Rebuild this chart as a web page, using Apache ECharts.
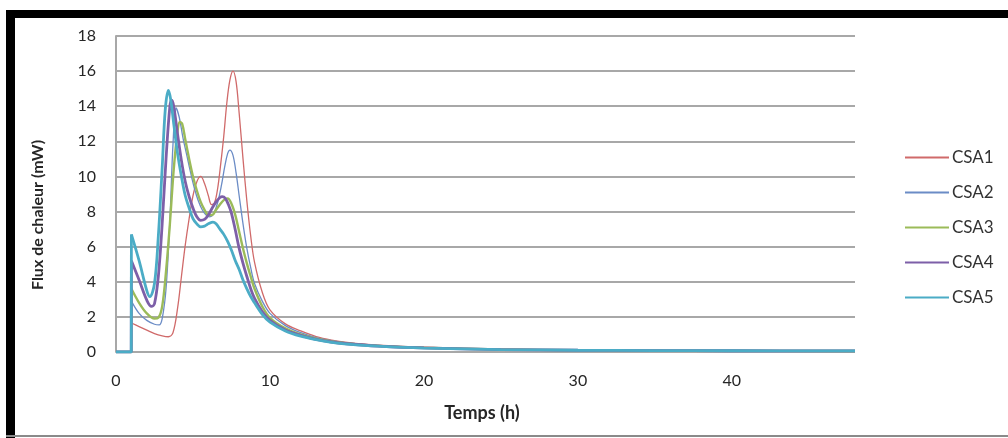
<!DOCTYPE html>
<html><head><meta charset="utf-8">
<script src="https://cdn.jsdelivr.net/npm/echarts@6/dist/echarts.min.js"></script>
<style>
html,body{margin:0;padding:0;background:#fff;overflow:hidden}
#c{position:absolute;left:0;top:0;width:1008px;height:438px}
.b{position:absolute;background:#000}
</style></head><body>
<div id="c"></div>
<div class="b" style="left:6px;top:10px;width:1002px;height:8px"></div>
<div class="b" style="left:6px;top:10px;width:9px;height:428px"></div>
<div style="position:absolute;left:6px;top:435px;width:1002px;height:2px;background:#8a8a8a"></div>
<script>
var seriesNames = ['CSA1', 'CSA2', 'CSA3', 'CSA4', 'CSA5'];
var xTitle = 'Temps (h)';
var yTitle = 'Flux de chaleur (mW)';

var csa1 = [[0,0],[0.99,0],[1,1.65],[1.5,1.45],[2,1.25],[2.5,1.05],[3,0.92],[3.4,0.87],[3.7,1.1],[4,2.5],[4.25,4.3],[4.5,6.1],[4.75,7.6],[5,8.9],[5.25,9.7],[5.5,10.0],[5.75,9.6],[6,8.9],[6.2,8.4],[6.4,8.5],[6.6,9.3],[6.8,10.7],[7,12.3],[7.2,14.2],[7.4,15.5],[7.6,16.0],[7.8,15.4],[8,13.6],[8.25,11.0],[8.5,8.6],[8.75,6.6],[9,5.1],[9.5,3.4],[10,2.4],[11,1.6],[12,1.2],[13,0.88],[14,0.68],[15,0.55],[17,0.39],[20,0.27],[25,0.17],[30,0.12],[35,0.09],[40,0.08],[48,0.06]];
var csa2 = [[0,0],[0.99,0],[1,2.9],[1.5,2.2],[2,1.8],[2.5,1.58],[2.8,1.54],[3,1.9],[3.25,3.6],[3.5,7.5],[3.7,11.8],[3.9,13.9],[4.1,13.4],[4.35,12.2],[4.6,11.2],[4.85,10.2],[5.1,9.3],[5.35,8.6],[5.6,8.1],[5.85,7.8],[6.1,7.7],[6.35,7.9],[6.6,8.5],[6.85,9.5],[7.05,10.5],[7.25,11.3],[7.4,11.5],[7.6,11.2],[7.8,10.2],[8,8.9],[8.25,7.3],[8.5,5.9],[8.75,4.8],[9,3.9],[9.5,2.9],[10,2.2],[11,1.5],[12,1.1],[13,0.82],[14,0.64],[15,0.52],[17,0.37],[20,0.25],[25,0.16],[30,0.11],[35,0.09],[40,0.08],[48,0.06]];
var csa3 = [[0,0],[0.99,0],[1,3.6],[1.5,2.8],[2,2.2],[2.5,1.9],[2.75,1.95],[3,2.6],[3.25,4.6],[3.5,7.3],[3.75,10.4],[4,12.6],[4.15,13.1],[4.3,13.0],[4.5,12.1],[4.75,11.0],[5,10.0],[5.25,9.2],[5.5,8.55],[5.75,8.1],[6,7.8],[6.25,7.8],[6.5,8.1],[6.75,8.4],[7,8.65],[7.25,8.75],[7.5,8.45],[7.75,7.8],[8,6.85],[8.25,5.9],[8.5,5.05],[8.75,4.3],[9,3.6],[9.5,2.6],[10,1.95],[11,1.35],[12,1.0],[13,0.76],[14,0.6],[15,0.49],[17,0.35],[20,0.24],[25,0.15],[30,0.1],[35,0.08],[40,0.07],[48,0.06]];
var csa4 = [[0,0],[0.99,0],[1,5.2],[1.5,4.1],[2,2.95],[2.3,2.6],[2.5,2.75],[2.75,4.3],[3,7.3],[3.25,11.0],[3.5,14.0],[3.62,14.35],[3.75,14.0],[4,12.4],[4.25,10.9],[4.5,9.7],[4.75,8.85],[5,8.2],[5.25,7.7],[5.5,7.5],[5.75,7.55],[6,7.8],[6.25,8.2],[6.5,8.55],[6.75,8.8],[6.9,8.85],[7.1,8.75],[7.3,8.4],[7.5,7.9],[7.75,6.95],[8,5.9],[8.25,5.05],[8.5,4.3],[8.75,3.6],[9,3.05],[9.5,2.3],[10,1.8],[11,1.25],[12,0.95],[13,0.72],[14,0.57],[15,0.47],[17,0.34],[20,0.23],[25,0.14],[30,0.1],[35,0.08],[40,0.07],[48,0.06]];
var csa5 = [[0,0],[0.99,0],[1,6.7],[1.5,5.2],[2,3.5],[2.2,3.15],[2.5,3.9],[2.75,6.6],[3,10.5],[3.2,13.8],[3.4,14.9],[3.55,14.4],[3.75,13.0],[4,11.3],[4.25,10.0],[4.5,8.9],[4.75,8.2],[5,7.6],[5.25,7.3],[5.5,7.13],[5.75,7.17],[6,7.3],[6.3,7.4],[6.5,7.3],[6.75,7.0],[7,6.7],[7.25,6.3],[7.5,5.8],[7.75,5.2],[8,4.7],[8.25,4.1],[8.5,3.6],[8.75,3.15],[9,2.8],[9.5,2.15],[10,1.7],[11,1.2],[12,0.9],[13,0.7],[14,0.55],[15,0.45],[17,0.33],[20,0.22],[25,0.14],[30,0.1],[35,0.08],[40,0.07],[48,0.06]];

var allData = [csa1, csa2, csa3, csa4, csa5];
var colors = ['#d06a6a', '#6b8cc6', '#9bbb59', '#7d5fa8', '#4bacc6'];
var widths = [1.3, 1.3, 2.4, 2.8, 2.8];

var FONT = 'Lato, "Open Sans", sans-serif';
var chart = echarts.init(document.getElementById('c'), null, {renderer: 'canvas'});

var series = [];
seriesNames.forEach(function (n, i) {
  series.push({
    name: n, type: 'line', data: allData[i].slice(2),
    symbol: 'none', showSymbol: false, smooth: 0.35,
    lineStyle: {color: colors[i], width: widths[i]},
    itemStyle: {color: colors[i]}, z: 2 + i
  });
  series.push({
    name: n, type: 'line', data: allData[i].slice(0, 3),
    symbol: 'none', showSymbol: false, smooth: false,
    lineStyle: {color: colors[i], width: widths[i]},
    itemStyle: {color: colors[i]}, z: 2 + i
  });
});

chart.setOption({
  backgroundColor: '#fff',
  animation: false,
  grid: {left: 116, right: 153, top: 36, bottom: 86, containLabel: false},
  xAxis: {
    type: 'value', min: 0, max: 48, interval: 10,
    axisLine: {show: false},
    axisTick: {show: false},
    splitLine: {show: false},
    axisLabel: {showMaxLabel: false, margin: 21, fontFamily: FONT, fontSize: 16, color: '#262626'}
  },
  yAxis: {
    type: 'value', min: 0, max: 18, interval: 2,
    axisLine: {show: true, lineStyle: {color: '#a8a8a8', width: 2}},
    axisTick: {show: false},
    splitLine: {show: true, lineStyle: {color: '#a8a8a8', width: 2}},
    axisLabel: {margin: 20, fontFamily: FONT, fontSize: 16, color: '#262626'}
  },
  legend: {
    orient: 'vertical', left: 899, top: 144,
    itemWidth: 44, itemHeight: 17, itemGap: 18,
    itemStyle: {opacity: 0},
    textStyle: {fontFamily: FONT, fontSize: 17, color: '#333', padding: [0,0,0,-2]},
    data: seriesNames
  },
  graphic: [
    {type: 'text', x: 38, y: 215, rotation: Math.PI / 2,
     style: {text: yTitle, font: 'bold 16px ' + FONT, fill: '#262626', align: 'center', verticalAlign: 'middle'}},
    {type: 'text', x: 482, y: 413,
     style: {text: xTitle, font: 'bold 18px ' + FONT, fill: '#262626', align: 'center', verticalAlign: 'middle'}}
  ],
  series: series
});
</script>
</body></html>
